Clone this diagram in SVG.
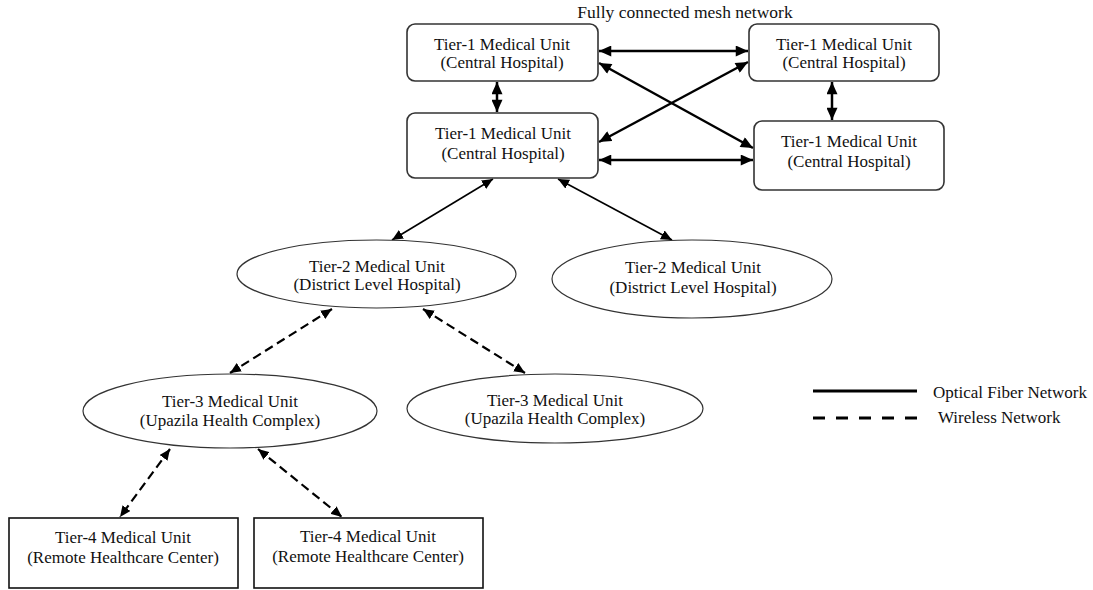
<svg xmlns="http://www.w3.org/2000/svg" width="1093" height="590" viewBox="0 0 1093 590">
<defs>
<style>
text{font-family:"Liberation Serif","Times New Roman",serif;font-size:17px;fill:#111;text-anchor:middle}
.title{font-size:17.5px}
.t1{fill:#fff;stroke:#333;stroke-width:1.6}
.ell{fill:#fff;stroke:#333;stroke-width:1.2}
.t4{fill:#fff;stroke:#111;stroke-width:1.6}
.mesh{stroke:#000;stroke-width:2.5;fill:none;marker-start:url(#ahb);marker-end:url(#ahb)}
.fib{stroke:#000;stroke-width:1.6;fill:none;marker-start:url(#ah);marker-end:url(#ah)}
.wl{stroke:#000;stroke-width:2.2;fill:none;stroke-dasharray:9 5;marker-start:url(#ah);marker-end:url(#ah)}
.leg{text-anchor:start}
</style>
<marker id="ah" viewBox="0 0 10 9" refX="10" refY="4.5" markerWidth="11" markerHeight="10" markerUnits="userSpaceOnUse" orient="auto-start-reverse">
<path d="M0,0 L10,4.5 L0,9 z" fill="#000"/>
</marker>
<marker id="ahb" viewBox="0 0 10 9" refX="10" refY="4.5" markerWidth="13" markerHeight="11" markerUnits="userSpaceOnUse" orient="auto-start-reverse">
<path d="M0,0 L10,4.5 L0,9 z" fill="#000"/>
</marker>
</defs>
<rect width="1093" height="590" fill="#fff"/>
<text class="title" x="685" y="18">Fully connected mesh network</text>
<g id="connectors">
<line class="mesh" x1="599" y1="51" x2="748" y2="51"/>
<line class="mesh" x1="497" y1="82" x2="497" y2="112"/>
<line class="mesh" x1="832" y1="82" x2="832" y2="120"/>
<line class="mesh" x1="599" y1="160" x2="753" y2="160"/>
<line class="mesh" x1="599" y1="63" x2="753" y2="148"/>
<line class="mesh" x1="599" y1="142" x2="748" y2="62"/>
<line class="fib" x1="493" y1="179" x2="392" y2="240"/>
<line class="fib" x1="558" y1="179" x2="672" y2="240"/>
<line class="wl" x1="332" y1="309" x2="230" y2="373"/>
<line class="wl" x1="423" y1="309" x2="525" y2="373"/>
<line class="wl" x1="170" y1="449" x2="120" y2="517"/>
<line class="wl" x1="258" y1="449" x2="342" y2="517"/>
</g>
<g id="t1a"><rect class="t1" x="407" y="24" width="191" height="57" rx="8"/><text x="502" y="50">Tier-1 Medical Unit</text><text x="502" y="68">(Central Hospital)</text></g>
<g id="t1b"><rect class="t1" x="749" y="24" width="190" height="57" rx="8"/><text x="844" y="50">Tier-1 Medical Unit</text><text x="844" y="68">(Central Hospital)</text></g>
<g id="t1c"><rect class="t1" x="407" y="113" width="191" height="65" rx="8"/><text x="503" y="139">Tier-1 Medical Unit</text><text x="503" y="159">(Central Hospital)</text></g>
<g id="t1d"><rect class="t1" x="754" y="121" width="190" height="69" rx="8"/><text x="849" y="147">Tier-1 Medical Unit</text><text x="849" y="167">(Central Hospital)</text></g>
<g id="t2a"><ellipse class="ell" cx="376.5" cy="274" rx="139.5" ry="34"/><text x="377" y="272">Tier-2 Medical Unit</text><text x="377" y="290">(District Level Hospital)</text></g>
<g id="t2b"><ellipse class="ell" cx="692" cy="279" rx="140" ry="39"/><text x="693" y="273">Tier-2 Medical Unit</text><text x="693" y="293">(District Level Hospital)</text></g>
<g id="t3a"><ellipse class="ell" cx="230" cy="411" rx="147" ry="37"/><text x="230" y="407">Tier-3 Medical Unit</text><text x="230" y="426">(Upazila Health Complex)</text></g>
<g id="t3b"><ellipse class="ell" cx="555" cy="408.5" rx="148" ry="34.5"/><text x="555" y="406">Tier-3 Medical Unit</text><text x="555" y="424">(Upazila Health Complex)</text></g>
<g id="t4a"><rect class="t4" x="9" y="518" width="229" height="70"/><text x="123" y="543">Tier-4 Medical Unit</text><text x="123" y="563">(Remote Healthcare Center)</text></g>
<g id="t4b"><rect class="t4" x="254" y="518" width="229" height="70"/><text x="368" y="542">Tier-4 Medical Unit</text><text x="368" y="562">(Remote Healthcare Center)</text></g>
<g id="legend">
<line x1="813" y1="391" x2="917" y2="391" stroke="#000" stroke-width="3"/>
<line x1="813" y1="418" x2="917" y2="418" stroke="#000" stroke-width="3" stroke-dasharray="12 11"/>
<text class="leg" x="933" y="398">Optical Fiber Network</text>
<text class="leg" x="938" y="423">Wireless Network</text>
</g>
</svg>
